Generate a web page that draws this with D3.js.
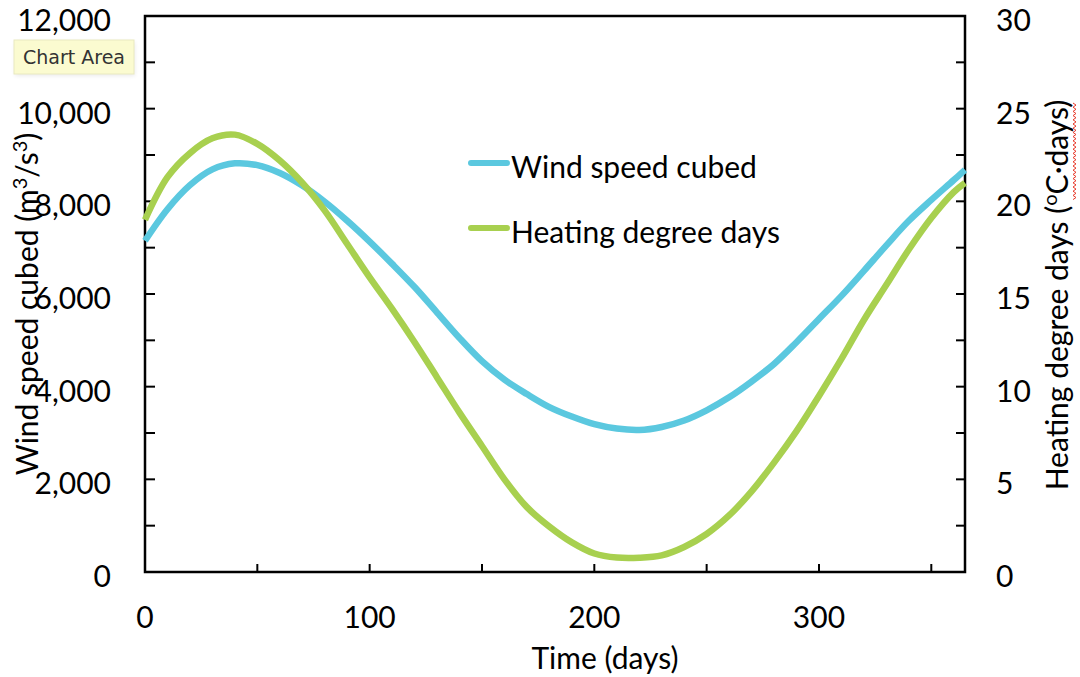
<!DOCTYPE html>
<html>
<head>
<meta charset="utf-8">
<script src="https://cdn.jsdelivr.net/npm/d3@7"></script>
<style>
  html, body { margin: 0; padding: 0; background: #fff; }
  svg text { font-family: Lato, "Open Sans", sans-serif; fill: #000; }
</style>
</head>
<body>
<div id="chart"></div>
<script>
// Data
const days = [0, 10, 20, 30, 40, 50, 60, 70, 80, 90, 100, 110, 120, 130, 140, 150, 160, 170, 180,
  190, 200, 210, 220, 230, 240, 250, 260, 270, 280, 290, 300, 310, 320, 330, 340, 350, 360, 365];
const windCubed = [7150, 7830, 8350, 8690, 8820, 8780, 8610, 8340, 7990, 7580, 7130, 6650, 6150, 5600,
  5050, 4550, 4150, 3840, 3560, 3355, 3190, 3095, 3065, 3130, 3270, 3490, 3770, 4110, 4490, 4960,
  5460, 5960, 6500, 7050, 7580, 8030, 8460, 8680];
const heatingDD = [19.0, 21.3, 22.6, 23.4, 23.6, 23.1, 22.2, 21.0, 19.5, 17.7, 15.9, 14.2, 12.4, 10.5,
  8.6, 6.8, 5.0, 3.5, 2.45, 1.6, 1.0, 0.78, 0.77, 0.9, 1.35, 2.05, 3.05, 4.35, 5.9, 7.6, 9.5, 11.5,
  13.6, 15.5, 17.4, 19.1, 20.5, 21.0];
const xTicks = [0, 100, 200, 300];
const leftTicks = [0, 2000, 4000, 6000, 8000, 10000, 12000];
const rightTicks = [0, 5, 10, 15, 20, 25, 30];
const seriesNames = ["Wind speed cubed", "Heating degree days"];
const seriesColors = ["#5bc8df", "#a8d04f"];

const width = 1080, height = 677;
const margin = {top: 16, right: 115, bottom: 105, left: 145};

const svg = d3.select("#chart").append("svg")
  .attr("width", width)
  .attr("height", height);

const x = d3.scaleLinear().domain([0, 365]).range([margin.left, width - margin.right]);
const yL = d3.scaleLinear().domain([0, 12000]).range([height - margin.bottom, margin.top]);
const yR = d3.scaleLinear().domain([0, 30]).range([height - margin.bottom, margin.top]);

const fontSize = 30;

const x0 = x.range()[0], x1 = x.range()[1];
const yb = yL.range()[0], yt = yL.range()[1];

// ticks, all pointing inward
const axisG = svg.append("g").attr("stroke", "#000").attr("stroke-width", 2);
d3.range(0, 12001, 1000).forEach(v => {
  axisG.append("line").attr("x1", x0).attr("x2", x0 + 10).attr("y1", yL(v)).attr("y2", yL(v));
});
d3.range(0, 30.1, 2.5).forEach(v => {
  axisG.append("line").attr("x1", x1).attr("x2", x1 - 9).attr("y1", yR(v)).attr("y2", yR(v));
});
d3.range(50, 365, 50).forEach(v => {
  axisG.append("line").attr("x1", x(v)).attr("x2", x(v)).attr("y1", yb).attr("y2", yb - 8);
});
axisG.append("rect")
  .attr("x", x0).attr("y", yt).attr("width", x1 - x0).attr("height", yb - yt)
  .attr("fill", "none").attr("stroke-width", 2.5);

// tick labels
svg.append("g").selectAll("text").data(leftTicks).join("text")
  .attr("x", 111).attr("y", d => yL(d)).attr("dy", "0.5em")
  .attr("text-anchor", "end").attr("font-size", fontSize)
  .text(d => d3.format(",")(d));
svg.append("g").selectAll("text").data(rightTicks).join("text")
  .attr("x", 996).attr("y", d => yR(d)).attr("dy", "0.5em")
  .attr("text-anchor", "start").attr("font-size", fontSize)
  .text(d => d);
svg.append("g").selectAll("text").data(xTicks).join("text")
  .attr("x", d => x(d)).attr("y", 628)
  .attr("text-anchor", "middle").attr("font-size", fontSize)
  .text(d => d);

// axis titles
svg.append("text")
  .attr("x", 605).attr("y", 669)
  .attr("text-anchor", "middle").attr("font-size", fontSize)
  .text("Time (days)");

const lt = svg.append("text")
  .attr("transform", "translate(38,304) rotate(-90)")
  .attr("text-anchor", "middle").attr("font-size", fontSize);
lt.append("tspan").text("Wind speed cubed (m");
lt.append("tspan").attr("font-size", 20).attr("dy", -11).text("3");
lt.append("tspan").attr("dy", 11).text("/s");
lt.append("tspan").attr("font-size", 20).attr("dy", -11).text("3");
lt.append("tspan").attr("dy", 11).text(")");

const rt = svg.append("text")
  .attr("transform", "translate(1068,295) rotate(-90)")
  .attr("text-anchor", "middle").attr("font-size", fontSize);
rt.append("tspan").text("Heating degree days (");
rt.append("tspan").attr("font-size", 20).attr("dy", -11).text("o");
rt.append("tspan").attr("dy", 11).text("C·days)");

// red spellcheck squiggle next to "oC·days"
const sq = [];
for (let i = 0; i <= 46; i++) sq.push([1074 + (i % 2 ? 2 : -1), 103 + i * 2.1]);
svg.append("path")
  .attr("d", d3.line()(sq))
  .attr("fill", "none").attr("stroke", "#e8392b").attr("stroke-width", 1);

// lines
const lineL = d3.line().x((d, i) => x(days[i])).y(d => yL(d)).curve(d3.curveCatmullRom.alpha(0.5));
const lineR = d3.line().x((d, i) => x(days[i])).y(d => yR(d)).curve(d3.curveCatmullRom.alpha(0.5));

svg.append("path").datum(windCubed)
  .attr("d", lineL).attr("fill", "none")
  .attr("stroke", seriesColors[0]).attr("stroke-width", 6.5).attr("stroke-linejoin", "round");
svg.append("path").datum(heatingDD)
  .attr("d", lineR).attr("fill", "none")
  .attr("stroke", seriesColors[1]).attr("stroke-width", 6.5).attr("stroke-linejoin", "round");

// legend
const legend = svg.append("g").attr("transform", "translate(470,163)");
seriesNames.forEach((name, i) => {
  const g = legend.append("g").attr("transform", `translate(0,${i * 65})`);
  g.append("line").attr("x1", 1).attr("x2", 37).attr("y1", 0).attr("y2", 0)
    .attr("stroke", seriesColors[i]).attr("stroke-width", 6).attr("stroke-linecap", "round");
  g.append("text").attr("x", 41).attr("y", 0).attr("dy", "0.5em")
    .attr("font-size", fontSize).text(name);
});

// "Chart Area" tooltip
const tip = svg.append("g").attr("transform", "translate(14,40)");
tip.append("rect").attr("x", 1).attr("y", 2).attr("width", 120).attr("height", 34)
  .attr("fill", "#000").attr("opacity", 0.08).attr("filter", "blur(2px)");
tip.append("rect").attr("width", 120).attr("height", 34)
  .attr("fill", "#fbfbd0").attr("stroke", "#e9e9c0").attr("stroke-width", 1);
tip.append("text").attr("x", 60).attr("y", 17).attr("dy", "0.36em")
  .attr("text-anchor", "middle").attr("font-size", 19)
  .style("font-family", "'DejaVu Sans', sans-serif").style("fill", "#333")
  .text("Chart Area");
</script>
</body>
</html>
